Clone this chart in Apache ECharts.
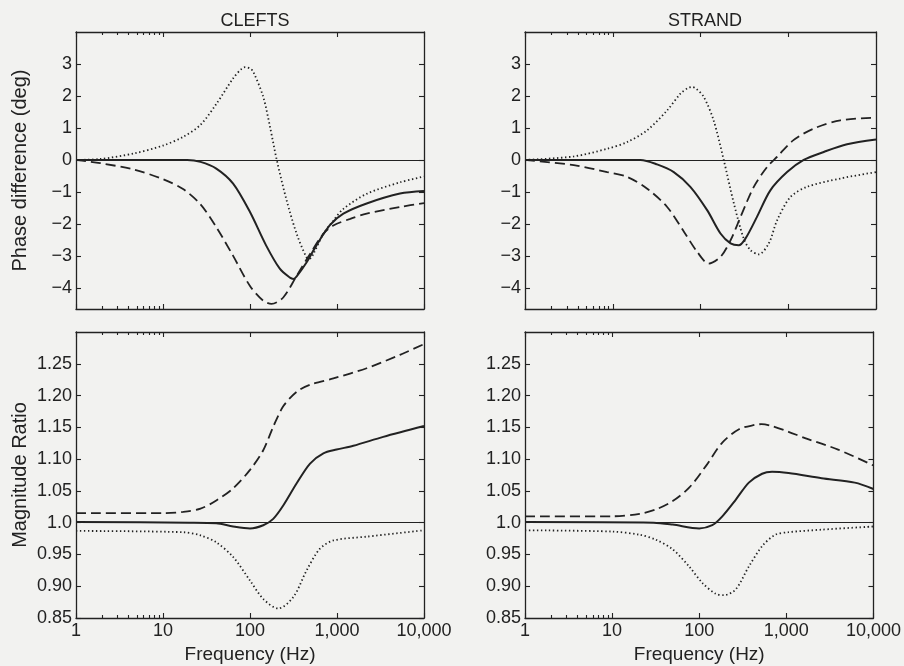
<!DOCTYPE html>
<html><head><meta charset="utf-8">
<script src="https://cdn.jsdelivr.net/npm/echarts@6/dist/echarts.min.js"></script>
<style>html,body{margin:0;padding:0;background:#f2f2f0}#c{width:904px;height:666px}</style>
</head><body><div id="c"></div>
<script>
// ---------- data ----------
const panelTitles = ['CLEFTS', 'STRAND'];
const phaseName = 'Phase difference (deg)';
const magName = 'Magnitude Ratio';
const freqName = 'Frequency (Hz)';
const minorTickFreqs = [2, 3, 4, 5, 6, 7, 8, 9];
const phaseTicks = [-4, -3, -2, -1, 0, 1, 2, 3];
const magTicks = [0.85, 0.90, 0.95, 1.00, 1.05, 1.10, 1.15, 1.20, 1.25];

// CLEFTS phase difference (deg): [frequency Hz, value]
const cleftsPhaseSolid = [[1,0],[10,0],[19,0],[27,-0.06],[41,-0.27],[64,-0.74],[100,-1.63],[153,-2.67],[220,-3.4],[288,-3.68],[315,-3.72],[344,-3.64],[448,-3.2],[580,-2.67],[828,-2.04],[1183,-1.68],[2193,-1.36],[5297,-1.05],[10000,-0.97]];
const cleftsPhaseDashed = [[1,0],[1.9,-0.1],[4.6,-0.3],[10,-0.6],[17,-0.91],[27,-1.39],[41,-2.1],[64,-3.0],[100,-3.94],[142,-4.4],[177,-4.5],[241,-4.3],[344,-3.62],[490,-2.94],[697,-2.31],[908,-2.05],[1421,-1.84],[2193,-1.68],[5297,-1.47],[10000,-1.35]];
const cleftsPhaseDotted = [[1,0],[1.9,0.03],[4.6,0.2],[10,0.45],[17,0.72],[27,1.1],[41,1.75],[64,2.55],[80,2.85],[88,2.9],[100,2.86],[109,2.76],[142,1.97],[170,1.03],[203,0],[264,-1.27],[344,-2.31],[448,-3.05],[490,-3.08],[535,-2.94],[697,-2.31],[908,-1.9],[1183,-1.53],[2193,-1.06],[5297,-0.7],[10000,-0.52]];

// STRAND phase difference (deg)
const strandPhaseSolid = [[1,0],[20.7,0],[32,-0.14],[49.6,-0.38],[76.6,-0.84],[119,-1.57],[169,-2.3],[220,-2.61],[273,-2.67],[325,-2.46],[440,-1.78],[625,-0.95],[970,-0.38],[1500,0],[2540,0.25],[4680,0.49],[10000,0.64]];
const strandPhaseDashed = [[1,0],[3.6,-0.16],[8.65,-0.38],[14.6,-0.53],[24.7,-0.9],[41.7,-1.47],[65,-2.25],[92,-2.88],[124,-3.24],[169,-3.03],[220,-2.51],[286,-1.78],[405,-0.84],[574,-0.22],[746,0.1],[1147,0.62],[1950,0.98],[3926,1.24],[10000,1.32]];
const strandPhaseDotted = [[1,0],[3.6,0.11],[8.65,0.35],[14.6,0.56],[24.7,0.93],[41.7,1.55],[59,2.07],[72,2.25],[80,2.28],[90,2.22],[109,1.97],[141,1.24],[184,0],[240,-1.36],[311,-2.46],[371,-2.82],[461,-2.95],[600,-2.61],[746,-1.89],[1059,-1.16],[1638,-0.84],[3926,-0.58],[10000,-0.38]];

// CLEFTS magnitude ratio
const cleftsMagSolid = [[1,1.001],[20,1.0],[41,0.999],[64,0.994],[100,0.991],[142,0.996],[185,1.006],[241,1.027],[344,1.062],[490,1.093],[697,1.109],[990,1.115],[1540,1.121],[3400,1.135],[10000,1.152]];
const cleftsMagDashed = [[1,1.015],[10,1.015],[17,1.017],[27,1.022],[41,1.035],[64,1.054],[100,1.083],[142,1.114],[185,1.151],[241,1.183],[344,1.206],[490,1.217],[908,1.227],[2193,1.243],[5297,1.264],[10000,1.281]];
const cleftsMagDotted = [[1,0.987],[17,0.985],[27,0.98],[41,0.969],[64,0.946],[100,0.909],[142,0.88],[211,0.865],[315,0.883],[448,0.925],[636,0.959],[908,0.972],[2193,0.978],[10000,0.988]];

// STRAND magnitude ratio
const strandMagSolid = [[1,1.001],[30,1.0],[49.6,0.997],[100,0.991],[141,0.996],[184,1.01],[262,1.036],[371,1.063],[527,1.077],[685,1.08],[1059,1.078],[2540,1.07],[6100,1.063],[10000,1.053]];
const strandMagDashed = [[1,1.01],[10,1.01],[20.7,1.014],[32,1.021],[49.6,1.034],[76.6,1.055],[119,1.089],[184,1.126],[286,1.147],[440,1.154],[520,1.155],[685,1.152],[1059,1.143],[1638,1.133],[3926,1.115],[10000,1.09]];
const strandMagDotted = [[1,0.988],[10,0.986],[20.7,0.981],[32,0.973],[49.6,0.958],[76.6,0.931],[109,0.905],[155,0.888],[193,0.886],[262,0.895],[371,0.931],[527,0.963],[746,0.981],[1059,0.985],[2540,0.989],[10000,0.994]];

// ---------- layout / styles ----------
const INK = '#222222';
const FONT = '"Liberation Sans", Arial, Helvetica, sans-serif';
const grids = [
  {left: 76, top: 32, width: 348, height: 277},
  {left: 525, top: 32, width: 351, height: 277},
  {left: 76, top: 332, width: 348, height: 286},
  {left: 525, top: 332, width: 351, height: 286}
];
const panels = [
  {kind: 'phase', solid: cleftsPhaseSolid, dashed: cleftsPhaseDashed, dotted: cleftsPhaseDotted},
  {kind: 'phase', solid: strandPhaseSolid, dashed: strandPhaseDashed, dotted: strandPhaseDotted},
  {kind: 'mag', solid: cleftsMagSolid, dashed: cleftsMagDashed, dotted: cleftsMagDotted},
  {kind: 'mag', solid: strandMagSolid, dashed: strandMagDashed, dotted: strandMagDotted}
];

const axisLine = {show: true, onZero: false, lineStyle: {color: INK, width: 1.3}};
const hiddenLine = {show: false, onZero: false};
const tickStyle = {color: INK, width: 1.1};
const xAxes = [], yAxes = [], series = [];

panels.forEach((p, i) => {
  const bottomRow = i >= 2;
  const baseX = {type: 'log', logBase: 10, min: 1, max: 10000, gridIndex: i, splitLine: {show: false}, minorTick: {show: false}};
  // bottom major
  xAxes.push(Object.assign({}, baseX, {
    position: 'bottom', axisLine: axisLine,
    axisTick: {show: true, inside: true, length: 5, lineStyle: tickStyle},
    axisLabel: {show: bottomRow, color: INK, fontSize: 18, fontFamily: FONT, margin: 4,
      formatter: v => Number(v).toLocaleString('en-US')},
    name: bottomRow ? freqName : '', nameLocation: 'middle', nameGap: 27,
    nameTextStyle: {color: INK, fontSize: 19, fontFamily: FONT}
  }));
  // bottom minor
  xAxes.push(Object.assign({}, baseX, {
    position: 'bottom', axisLine: hiddenLine,
    axisTick: {show: true, inside: true, length: 3, lineStyle: tickStyle, customValues: minorTickFreqs},
    axisLabel: {show: false}
  }));
  // top major
  xAxes.push(Object.assign({}, baseX, {
    position: 'top', axisLine: axisLine,
    axisTick: {show: true, inside: true, length: 5, lineStyle: tickStyle},
    axisLabel: {show: false}
  }));
  // top minor
  xAxes.push(Object.assign({}, baseX, {
    position: 'top', axisLine: hiddenLine,
    axisTick: {show: true, inside: true, length: 3, lineStyle: tickStyle, customValues: minorTickFreqs},
    axisLabel: {show: false}
  }));

  const isPhase = p.kind === 'phase';
  const ticks = isPhase ? phaseTicks : magTicks;
  const yr = isPhase ? {min: -4.66, max: 4} : {min: 0.85, max: 1.30};
  const fmt = isPhase ? (v => String(v).replace('-', '\u2212'))
                      : (v => Math.abs(v - 1) < 1e-9 ? '1.0' : Number(v).toFixed(2));
  const leftCol = i % 2 === 0;
  yAxes.push({
    type: 'value', gridIndex: i, min: yr.min, max: yr.max, position: 'left',
    axisLine: axisLine, splitLine: {show: false},
    axisTick: {show: true, inside: true, length: 5, lineStyle: tickStyle, customValues: ticks},
    axisLabel: {show: true, customValues: ticks, formatter: fmt, color: INK, fontSize: 18, fontFamily: FONT, margin: 4},
    name: leftCol ? (isPhase ? phaseName : magName) : '',
    nameLocation: 'middle', nameGap: 46, nameRotate: 90,
    nameTextStyle: {color: INK, fontSize: 20, fontFamily: FONT}
  });
  yAxes.push({
    type: 'value', gridIndex: i, min: yr.min, max: yr.max, position: 'right',
    axisLine: axisLine, splitLine: {show: false},
    axisTick: {show: true, inside: true, length: 5, lineStyle: tickStyle, customValues: ticks},
    axisLabel: {show: false}
  });

  const common = {type: 'line', xAxisIndex: 4 * i, yAxisIndex: 2 * i, showSymbol: false, symbol: 'none',
    smooth: 0.3, animation: false, silent: true};
  series.push(Object.assign({}, common, {
    name: 'solid' + i, data: p.solid,
    lineStyle: {color: INK, width: 2, type: 'solid'},
    markLine: {silent: true, symbol: ['none', 'none'], animation: false, label: {show: false},
      lineStyle: {color: INK, width: 1.2, type: 'solid'},
      data: [{yAxis: isPhase ? 0 : 1}]}
  }));
  series.push(Object.assign({}, common, {
    name: 'dashed' + i, data: p.dashed,
    lineStyle: {color: INK, width: 1.8, type: [10, 5]}
  }));
  series.push(Object.assign({}, common, {
    name: 'dotted' + i, data: p.dotted,
    lineStyle: {color: INK, width: 1.8, type: [1.4, 2.6]}
  }));
});

const titleStyle = {color: INK, fontSize: 18, fontWeight: 'normal', fontFamily: FONT};
const chart = echarts.init(document.getElementById('c'), null, {renderer: 'canvas'});
chart.setOption({
  backgroundColor: '#f2f2f0',
  animation: false,
  title: [
    {text: panelTitles[0], left: 250, top: 7, textAlign: 'center', textStyle: titleStyle},
    {text: panelTitles[1], left: 700, top: 7, textAlign: 'center', textStyle: titleStyle}
  ],
  grid: grids,
  xAxis: xAxes,
  yAxis: yAxes,
  series: series
});
</script>
</body></html>
